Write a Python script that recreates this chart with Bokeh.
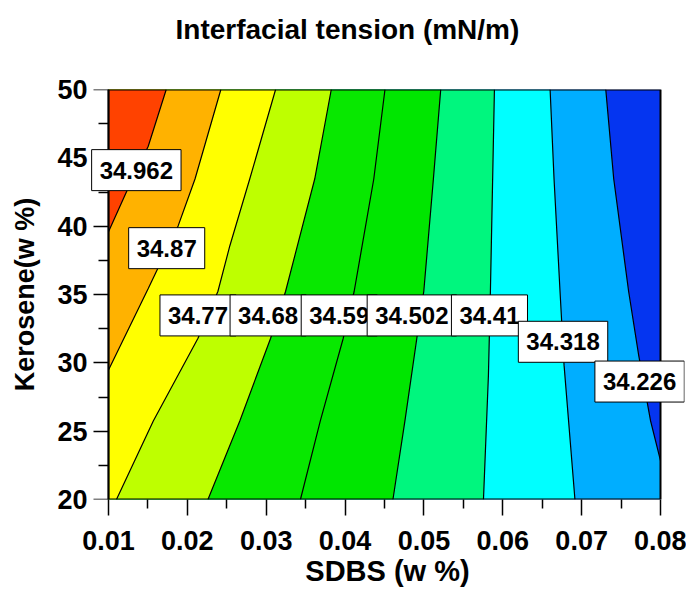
from bokeh.plotting import figure
from bokeh.models import Range1d, FixedTicker, Label, LinearAxis, Title
from bokeh.embed import file_html
from bokeh.resources import INLINE

# ---------------- data ----------------
x_lo, x_hi = 0.01, 0.08          # SDBS (w %)
y_lo, y_hi = 20, 50              # Kerosene (w %)

x_ticks = [0.01, 0.02, 0.03, 0.04, 0.05, 0.06, 0.07, 0.08]
x_minor = [0.015, 0.025, 0.035, 0.045, 0.055, 0.065, 0.075]
y_ticks = [20, 25, 30, 35, 40, 45, 50]
y_minor = [22.5, 27.5, 32.5, 37.5, 42.5, 47.5]

# contour levels (low -> high) and their label texts
levels = [34.226, 34.318, 34.41, 34.502, 34.59, 34.68, 34.77, 34.87, 34.962]
level_texts = ["34.226", "34.318", "34.41", "34.502", "34.59", "34.68", "34.77", "34.87", "34.962"]

# traced contour lines (top of the plot downwards)
c34226_x = [0.07306, 0.07407, 0.07596, 0.07723, 0.07874, 0.08]
c34226_y = [50, 43.45, 35.22, 30.56, 25.75, 22.84]
c34318_x = [0.0660, 0.0665, 0.06726, 0.06777, 0.06915]
c34318_y = [50, 43.45, 35.22, 29.83, 20]
c34410_x = [0.05894, 0.05843, 0.05818, 0.05755]
c34410_y = [50, 35.22, 29.10, 20]
c34502_x = [0.05213, 0.0512, 0.04998, 0.0491, 0.04759, 0.04607]
c34502_y = [50, 43.45, 35.22, 31.80, 25.75, 20]
c34590_x = [0.04506, 0.04364, 0.04115, 0.03977, 0.03686, 0.03434]
c34590_y = [50, 43.45, 35.22, 31.80, 25.75, 20]
c34680_x = [0.03825, 0.03615, 0.03245, 0.03056, 0.02665, 0.02261]
c34680_y = [50, 43.45, 35.22, 31.80, 25.75, 20]
c34770_x = [0.03119, 0.02791, 0.02539, 0.02387, 0.02135, 0.01568, 0.01101]
c34770_y = [50, 43.45, 38.57, 35.22, 31.80, 25.75, 20]
c34870_x = [0.02425, 0.02097, 0.01883, 0.01504, 0.01]
c34870_y = [50, 43.45, 40.02, 35.44, 29.47]
c34962_x = [0.01732, 0.01504, 0.01227, 0.01]
c34962_y = [50, 45.85, 42.5, 39.59]

lines_x = [c34226_x, c34318_x, c34410_x, c34502_x, c34590_x, c34680_x, c34770_x, c34870_x, c34962_x]
lines_y = [c34226_y, c34318_y, c34410_y, c34502_y, c34590_y, c34680_y, c34770_y, c34870_y, c34962_y]

# band colours, from the lowest band (< 34.226) to the highest (> 34.962)
band_colors = ["#0535F0", "#00AEFF", "#00FFFF", "#00F67E", "#00E600",
               "#08E800", "#BEFF00", "#FFFF00", "#FFB200", "#FF4200"]

# label positions (data coords), drawn from highest level to lowest
label_texts = ["34.962", "34.87", "34.77", "34.68", "34.59", "34.502", "34.41", "34.318", "34.226"]
label_x = [0.01353, 0.01738, 0.02135, 0.03024, 0.03926, 0.04847, 0.05831, 0.06764, 0.07735]
label_y = [44.10, 38.39, 33.47, 33.47, 33.47, 33.47, 33.47, 31.54, 28.63]

title_text = "Interfacial tension (mN/m)"
x_title = "SDBS (w %)"
y_title = "Kerosene(w %)"

# ---------------- layout (pixels) ----------------
W, H = 686, 589
frame_l, frame_r = 90, 684          # frame extended so edge labels are not clipped
data_l, data_r = 108, 660           # pixel position of x_lo / x_hi
frame_t, frame_b = 89, 500
ppu = (data_r - data_l) / (x_hi - x_lo)
xr = Range1d(x_lo - (data_l - frame_l) / ppu, x_hi + (frame_r - data_r) / ppu)

p = figure(width=W, height=H, output_backend="svg", toolbar_location=None,
           x_range=xr, y_range=Range1d(y_lo, y_hi),
           min_border_left=frame_l, min_border_right=W - frame_r,
           min_border_top=frame_t, min_border_bottom=H - frame_b)
p.title = None
p.grid.visible = False
p.background_fill_color = "white"
p.border_fill_color = "white"
p.outline_line_color = None

# spacer between frame and title, then the title itself
p.add_layout(Title(text=" ", text_font_size="1px", standoff=40), "above")
p.add_layout(Title(text=title_text, align="left", offset=175 - frame_l, standoff=4,
                   text_font="Liberation Sans", text_font_size="28px",
                   text_font_style="bold", text_color="black"), "above")

# base band (lowest values) over the data area
p.quad(left=[x_lo], right=[x_hi], bottom=[y_lo], top=[y_hi],
       fill_color=band_colors[0], line_color=None)

# region left of each contour (higher values), painted low -> high
poly_xs, poly_ys = [], []
for lx, ly in zip(lines_x, lines_y):
    xs, ys = list(lx), list(ly)
    ex, ey = xs[-1], ys[-1]
    if ey == y_lo:               # ends on bottom edge
        xs += [x_lo, x_lo]; ys += [y_lo, y_hi]
    elif ex == x_lo:             # ends on left edge
        xs += [x_lo]; ys += [y_hi]
    else:                        # ends on right edge
        xs += [x_hi, x_lo, x_lo]; ys += [y_lo, y_lo, y_hi]
    poly_xs.append(xs); poly_ys.append(ys)
p.patches(xs=poly_xs, ys=poly_ys, fill_color=band_colors[1:], line_color=None)

p.multi_line(xs=lines_x, ys=lines_y, line_color="black", line_width=1.2)

# frame border of the data area
p.quad(left=[x_lo], right=[x_hi], bottom=[y_lo], top=[y_hi],
       fill_color=None, line_color="black", line_width=2)

for t, lx, ly in zip(label_texts, label_x, label_y):
    p.add_layout(Label(x=lx, y=ly, text=t, text_align="center", text_baseline="middle",
                       text_font="Liberation Sans", text_font_size="24px", text_font_style="bold",
                       text_color="black", background_fill_color="white",
                       border_line_color="black", border_line_width=1,
                       padding=dict(left=8, right=8, top=12, bottom=12)))

# y-axis with tick labels (at the frame edge, without line/ticks)
ylab_axis = LinearAxis(ticker=FixedTicker(ticks=y_ticks, minor_ticks=[]),
                       axis_label=y_title)
p.add_layout(ylab_axis, "left")

def style_axis(ax):
    ax.axis_line_color = "black"
    ax.axis_line_width = 1.5
    ax.major_tick_line_color = "black"
    ax.minor_tick_line_color = "black"
    ax.major_tick_line_width = 1.5
    ax.minor_tick_line_width = 1.5
    ax.major_tick_in = 0
    ax.minor_tick_in = 0
    ax.major_label_text_font = "Liberation Sans"
    ax.major_label_text_font_size = "27px"
    ax.major_label_text_font_style = "bold"
    ax.major_label_text_color = "black"
    ax.axis_label_text_font = "Liberation Sans"
    ax.axis_label_text_font_style = "bold"
    ax.axis_label_text_color = "black"

xax = p.xaxis[0]
ytk = p.yaxis[0]          # the default left axis: line + ticks at x_lo
for ax in (xax, ytk, ylab_axis):
    style_axis(ax)

# x axis
xax.axis_line_color = None
xax.ticker = FixedTicker(ticks=x_ticks, minor_ticks=x_minor)
xax.major_label_overrides = {v: f"{v:.2f}" for v in x_ticks}
xax.major_tick_out = 16
xax.minor_tick_out = 9
xax.major_label_standoff = 15
xax.axis_label = x_title
xax.axis_label_text_font_size = "29px"
xax.axis_label_standoff = 2

# y axis: line and ticks placed at x_lo
ytk.fixed_location = x_lo
ytk.ticker = FixedTicker(ticks=y_ticks, minor_ticks=y_minor)
ytk.major_tick_out = 15
ytk.minor_tick_out = 10
ytk.major_label_text_color = None
ytk.axis_label = None

# y axis: labels
ylab_axis.axis_line_color = None
ylab_axis.major_tick_line_color = None
ylab_axis.minor_tick_line_color = None
ylab_axis.major_tick_out = 0
ylab_axis.minor_tick_out = 0
ylab_axis.major_label_standoff = 3
ylab_axis.axis_label_text_font_size = "27px"
ylab_axis.axis_label_standoff = 14

open("out.html", "w").write(file_html(p, INLINE))
